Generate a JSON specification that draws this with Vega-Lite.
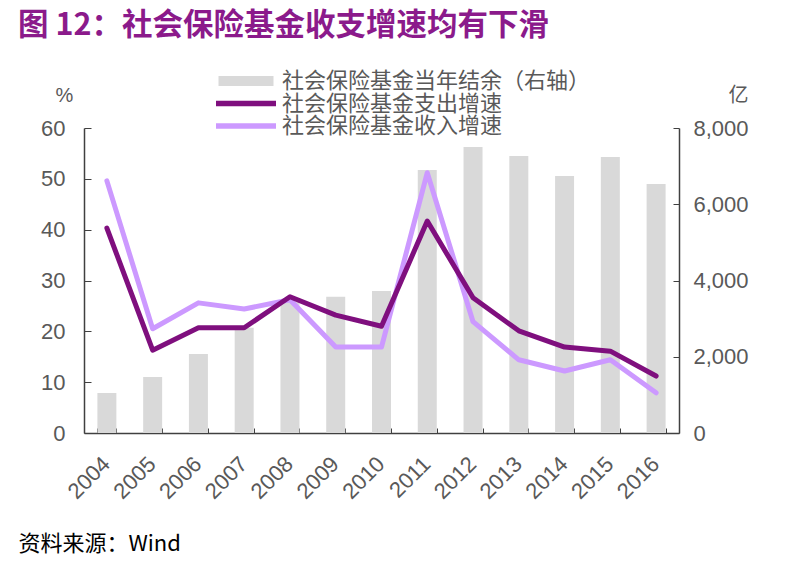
{
  "$schema": "https://vega.github.io/schema/vega-lite/v6.json",
  "width": 595,
  "height": 305,
  "autosize": {"type": "none"},
  "padding": {"left": 84, "top": 128, "right": 114, "bottom": 140},
  "background": "white",
  "config": {"view": {"stroke": null}, "font": "Liberation Sans"},
  "title": {
    "text": "图 12：社会保险基金收支增速均有下滑",
    "anchor": "start",
    "frame": "group",
    "orient": "top",
    "offset": -1,
    "dx": -66,
    "fontSize": 30.5,
    "font": "Noto Sans CJK SC",
    "fontWeight": "bold",
    "color": "#8B1A8B",
    "baseline": "bottom"
  },
  "data": {
    "values": [
      {"year": "2004", "series": "社会保险基金当年结余（右轴）", "value": 1050},
      {"year": "2005", "series": "社会保险基金当年结余（右轴）", "value": 1470},
      {"year": "2006", "series": "社会保险基金当年结余（右轴）", "value": 2070},
      {"year": "2007", "series": "社会保险基金当年结余（右轴）", "value": 2760},
      {"year": "2008", "series": "社会保险基金当年结余（右轴）", "value": 3450},
      {"year": "2009", "series": "社会保险基金当年结余（右轴）", "value": 3575},
      {"year": "2010", "series": "社会保险基金当年结余（右轴）", "value": 3725},
      {"year": "2011", "series": "社会保险基金当年结余（右轴）", "value": 6900},
      {"year": "2012", "series": "社会保险基金当年结余（右轴）", "value": 7500},
      {"year": "2013", "series": "社会保险基金当年结余（右轴）", "value": 7265},
      {"year": "2014", "series": "社会保险基金当年结余（右轴）", "value": 6740},
      {"year": "2015", "series": "社会保险基金当年结余（右轴）", "value": 7240},
      {"year": "2016", "series": "社会保险基金当年结余（右轴）", "value": 6530},
      {"year": "2004", "series": "社会保险基金支出增速", "value": 40.3},
      {"year": "2005", "series": "社会保险基金支出增速", "value": 16.3},
      {"year": "2006", "series": "社会保险基金支出增速", "value": 20.7},
      {"year": "2007", "series": "社会保险基金支出增速", "value": 20.7},
      {"year": "2008", "series": "社会保险基金支出增速", "value": 26.8},
      {"year": "2009", "series": "社会保险基金支出增速", "value": 23.2},
      {"year": "2010", "series": "社会保险基金支出增速", "value": 21.0},
      {"year": "2011", "series": "社会保险基金支出增速", "value": 41.7},
      {"year": "2012", "series": "社会保险基金支出增速", "value": 26.6},
      {"year": "2013", "series": "社会保险基金支出增速", "value": 20.1},
      {"year": "2014", "series": "社会保险基金支出增速", "value": 16.9},
      {"year": "2015", "series": "社会保险基金支出增速", "value": 16.1},
      {"year": "2016", "series": "社会保险基金支出增速", "value": 11.2},
      {"year": "2004", "series": "社会保险基金收入增速", "value": 49.6},
      {"year": "2005", "series": "社会保险基金收入增速", "value": 20.5},
      {"year": "2006", "series": "社会保险基金收入增速", "value": 25.6},
      {"year": "2007", "series": "社会保险基金收入增速", "value": 24.4},
      {"year": "2008", "series": "社会保险基金收入增速", "value": 26.2},
      {"year": "2009", "series": "社会保险基金收入增速", "value": 16.9},
      {"year": "2010", "series": "社会保险基金收入增速", "value": 16.9},
      {"year": "2011", "series": "社会保险基金收入增速", "value": 51.2},
      {"year": "2012", "series": "社会保险基金收入增速", "value": 21.9},
      {"year": "2013", "series": "社会保险基金收入增速", "value": 14.4},
      {"year": "2014", "series": "社会保险基金收入增速", "value": 12.2},
      {"year": "2015", "series": "社会保险基金收入增速", "value": 14.4},
      {"year": "2016", "series": "社会保险基金收入增速", "value": 7.9}
    ]
  },
  "encoding": {
    "x": {
      "field": "year",
      "type": "ordinal",
      "scale": {"paddingInner": 0.585, "paddingOuter": 0.2925},
      "axis": {
        "labelAngle": -45,
        "labelFontSize": 22,
        "labelColor": "#595959",
        "labelPadding": 25,
        "labelOffset": -8,
        "tickBand": "extent",
        "tickSize": -5,
        "tickColor": "#404040",
        "domainColor": "#404040",
        "domainWidth": 1.5,
        "title": "资料来源：Wind",
        "titleX": -66,
        "titleY": 110,
        "titleAlign": "left",
        "titleBaseline": "middle",
        "titleFontSize": 22,
        "titleFontWeight": "normal",
        "titleColor": "#000000",
        "titleFont": "Noto Sans CJK SC"
      }
    },
    "color": {
      "field": "series",
      "type": "nominal",
      "scale": {
        "domain": ["社会保险基金当年结余（右轴）", "社会保险基金支出增速", "社会保险基金收入增速"],
        "range": ["#D9D9D9", "#7F0F7E", "#CC99FF"]
      },
      "legend": {
        "orient": "none",
        "legendX": 151,
        "legendY": -58,
        "title": null,
        "padding": 0,
        "labelFontSize": 22,
        "labelLimit": 0,
        "labelColor": "#595959",
        "labelFont": "Noto Sans CJK SC",
        "symbolType": "M-3,-0.25H3V0.25H-3Z",
        "symbolSize": 400,
        "symbolStrokeWidth": 0,
        "labelOffset": 25,
        "rowPadding": 0.5,
        "encode": {
          "symbols": {
            "update": {
              "fill": {"scale": "color", "field": "value"},
              "strokeWidth": {"value": 0},
              "shape": [
                {"test": "datum.value === '社会保险基金当年结余（右轴）'", "value": "M-2.75,-0.5H2.75V0.5H-2.75Z"},
                {"value": "M-3,-0.28H3V0.28H-3Z"}
              ]
            }
          }
        }
      }
    }
  },
  "layer": [
    {
      "transform": [{"filter": {"field": "series", "oneOf": ["社会保险基金当年结余（右轴）"]}}],
      "mark": {"type": "bar"},
      "encoding": {
        "y": {
          "field": "value",
          "type": "quantitative",
          "scale": {"domain": [0, 8000], "nice": false},
          "axis": {
            "orient": "right",
            "values": [0, 2000, 4000, 6000, 8000],
            "format": ",.0f",
            "grid": false,
            "title": "亿",
            "titleAngle": 0,
            "titleX": 59,
            "titleY": -33,
            "titleAlign": "center",
            "titleBaseline": "middle",
            "titleFontSize": 20,
            "titleFontWeight": "normal",
            "titleColor": "#595959",
            "titleFont": "Noto Sans CJK SC",
            "labelFontSize": 22,
            "labelColor": "#595959",
            "labelPadding": 20,
            "tickSize": -6,
            "tickColor": "#404040",
            "domainColor": "#404040",
            "domainWidth": 1.5
          }
        }
      }
    },
    {
      "encoding": {
        "y": {
          "field": "value",
          "type": "quantitative",
          "scale": {"domain": [0, 60], "nice": false},
          "axis": {
            "orient": "left",
            "values": [0, 10, 20, 30, 40, 50, 60],
            "grid": false,
            "title": "%",
            "titleAngle": 0,
            "titleX": -20,
            "titleY": -33,
            "titleAlign": "center",
            "titleBaseline": "middle",
            "titleFontSize": 20,
            "titleFontWeight": "normal",
            "titleColor": "#595959",
            "labelFontSize": 22,
            "labelColor": "#595959",
            "labelPadding": 26,
            "tickSize": -7,
            "tickColor": "#404040",
            "domainColor": "#404040",
            "domainWidth": 1.5
          }
        }
      },
      "layer": [
        {
          "transform": [{"filter": {"field": "series", "oneOf": ["社会保险基金收入增速"]}}],
          "mark": {"type": "line", "strokeWidth": 5, "strokeJoin": "round", "strokeCap": "round"}
        },
        {
          "transform": [{"filter": {"field": "series", "oneOf": ["社会保险基金支出增速"]}}],
          "mark": {"type": "line", "strokeWidth": 5, "strokeJoin": "round", "strokeCap": "round"}
        }
      ]
    }
  ],
  "resolve": {"scale": {"y": "independent"}}
}
